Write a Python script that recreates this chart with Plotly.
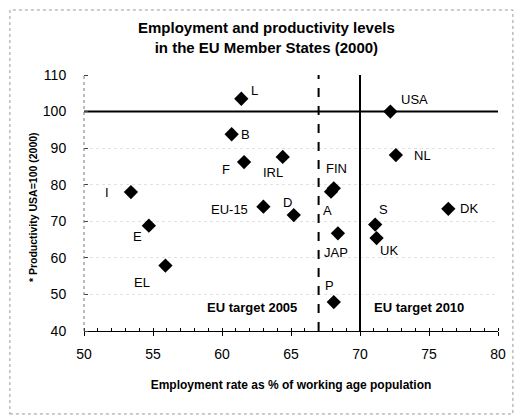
import plotly.graph_objects as go

# country codes and values
countries = ['L', 'USA', 'B', 'F', 'IRL', 'I', 'E', 'EL', 'EU-15', 'D',
             'FIN', 'A', 'JAP', 'P', 'NL', 'S', 'UK', 'DK']
employment = [61.4, 72.2, 60.7, 61.6, 64.4, 53.4, 54.7, 55.9, 63.0, 65.2,
              68.1, 67.9, 68.4, 68.1, 72.6, 71.1, 71.2, 76.4]
productivity = [103.5, 100.0, 93.8, 86.2, 87.6, 78.0, 68.8, 57.9, 74.0, 71.7,
                79.0, 78.1, 66.7, 47.9, 88.1, 69.1, 65.4, 73.4]

target_2005 = 67
target_2010 = 70
usa_level = 100

# label offsets in px (dx, dy) relative to each diamond
offsets = {'L': (13, 8), 'USA': (24, 12), 'B': (14, 0), 'F': (-18, -7),
           'IRL': (-10, -16), 'I': (-24, 0), 'E': (-11, -11), 'EL': (-23, -17),
           'EU-15': (-34, -3), 'D': (-6, 13), 'FIN': (3, 20), 'A': (-4, -19),
           'JAP': (-2, -19), 'P': (-4, 17), 'NL': (27, 0), 'S': (8, 15),
           'UK': (12, -12), 'DK': (21, 0)}

FONT = 'Liberation Sans, Arial, sans-serif'

fig = go.Figure()

# reference lines
fig.add_trace(go.Scatter(x=[50, 80], y=[usa_level, usa_level], mode='lines',
                         line=dict(color='black', width=2), hoverinfo='skip'))
fig.add_trace(go.Scatter(x=[target_2005, target_2005], y=[40, 110], mode='lines',
                         line=dict(color='black', width=2, dash='dash'), hoverinfo='skip'))
fig.add_trace(go.Scatter(x=[target_2010, target_2010], y=[40, 110], mode='lines',
                         line=dict(color='black', width=2), hoverinfo='skip'))

fig.add_trace(go.Scatter(x=employment, y=productivity, mode='markers', text=countries,
                         marker=dict(symbol='diamond', size=11, color='black')))

for c, ex, pr in zip(countries, employment, productivity):
    dx, dy = offsets[c]
    fig.add_annotation(x=ex, y=pr, text=c, showarrow=False, xshift=dx, yshift=dy,
                       font=dict(family=FONT, size=13, color='black'))

fig.add_annotation(x=62.2, y=46.3, text='<b>EU target 2005</b>', showarrow=False,
                   font=dict(family=FONT, size=13, color='black'))
fig.add_annotation(x=74.3, y=46.3, text='<b>EU target 2010</b>', showarrow=False,
                   font=dict(family=FONT, size=13, color='black'))

# title and y title placed by hand, like the scan
fig.add_annotation(xref='paper', yref='paper', x=0.442, y=1.146, yanchor='middle',
                   text='<b>Employment and productivity levels<br>in the EU Member States (2000)</b>',
                   showarrow=False, font=dict(family=FONT, size=15, color='black'))
fig.add_annotation(xref='paper', yref='paper', x=-0.1425, y=0.484, textangle=-90,
                   text='<b>* Productivity USA=100 (2000)</b>', showarrow=False,
                   font=dict(family=FONT, size=10.5, color='black'))

# outer frame of the scanned figure
fig.add_shape(type='rect', xref='paper', yref='paper', x0=-0.179, x1=1.036, y0=-0.324, y1=1.254,
              line=dict(color='#999', width=1, dash='dot'))
# dotted left axis line
fig.add_shape(type='line', xref='paper', yref='paper', x0=0, x1=0, y0=0, y1=1,
              line=dict(color='#777', width=1, dash='dot'))

fig.update_layout(
    width=515, height=416,
    margin=dict(l=84, r=17, t=75, b=85),
    paper_bgcolor='white', plot_bgcolor='white',
    showlegend=False,
    font=dict(family=FONT, color='black'),
    xaxis=dict(range=[50, 80], tickvals=[50, 55, 60, 65, 70, 75, 80],
               showgrid=False, zeroline=False, showline=True, linecolor='black', linewidth=1,
               ticks='outside', ticklen=4, tickcolor='black', ticklabelstandoff=6,
               minor=dict(dtick=1, ticks='inside', ticklen=3, tickcolor='black'),
               tickfont=dict(size=14), automargin=False,
               title=dict(text='<b>Employment rate as % of working age population</b>',
                          font=dict(size=12), standoff=19)),
    yaxis=dict(range=[40, 110], tickvals=[40, 50, 60, 70, 80, 90, 100, 110],
               showgrid=True, gridcolor='#e2e2e2', griddash='dot', gridwidth=1,
               zeroline=False, showline=False,
               # invisible long ticks push the labels out, minor ticks draw the short inner marks
               ticks='outside', ticklen=14, tickcolor='rgba(0,0,0,0)',
               minor=dict(tick0=40, dtick=10, ticks='inside', ticklen=4, tickcolor='#444',
                          showgrid=False),
               tickfont=dict(size=14), automargin=False),
)

fig.write_html("out.html", config={'displayModeBar': False},
               post_script="document.body.style.margin='0';")
